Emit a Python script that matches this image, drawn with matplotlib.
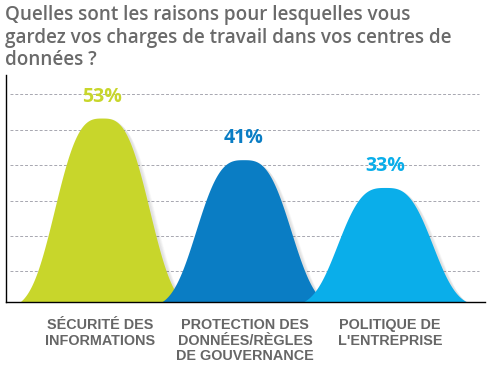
import numpy as np
import matplotlib
matplotlib.use("Agg")
import matplotlib.pyplot as plt

title = "Quelles sont les raisons pour lesquelles vous\ngardez vos charges de travail dans vos centres de\ndonnées ?"
categories = [
    "SÉCURITÉ DES\nINFORMATIONS",
    "PROTECTION DES\nDONNÉES/RÈGLES\nDE GOUVERNANCE",
    "POLITIQUE DE\nL'ENTREPRISE",
]
values = [53, 41, 33]
colors = ["#c8d62b", "#0a7dc4", "#0aaeea"]
grid_levels = [8.9, 19.1, 29.2, 39.4, 49.5, 59.9]

W, H = 495, 366
fig = plt.figure(figsize=(W / 100, H / 100), dpi=100)

# axes placed in pixel coords of the reference
ax_l, ax_r, ax_t, ax_b = 6, 485, 75, 302
ax = fig.add_axes([ax_l / W, 1 - ax_b / H, (ax_r - ax_l) / W, (ax_b - ax_t) / H])

xmin, xmax = -0.678, 2.707
ax.set_xlim(xmin, xmax)
ax.set_ylim(0, 65.4)

# dashed grid
for g in grid_levels:
    ax.plot([xmin + 0.03, xmax - 0.04], [g, g], ls=(0, (3, 2)), color="#a7a7b0",
            lw=0.7, zorder=0)

# bell shaped "bars"
xs = np.linspace(-0.58, 0.58, 400)
shape = np.exp(-(np.abs(xs) / 0.386) ** 3)
shape = np.clip(shape - shape[0], 0, None) / (1 - shape[0])
for i, (v, c) in enumerate(zip(values, colors)):
    # soft shadow
    for k in range(6):
        ax.fill_between(xs + i + 0.012 + 0.006 * k, 0, v * shape - 0.3 * k,
                        color="#000000", alpha=0.02, lw=0, zorder=1)
    ax.fill_between(xs + i, 0, v * shape, color=c, lw=0, zorder=2 + i)
    ax.text(i, v + 6.2, f"{v}%", ha="center", va="center", fontsize=14,
            fontweight="bold", color=c, family="Open Sans")

for s in ["top", "right"]:
    ax.spines[s].set_visible(False)
ax.spines["left"].set_color("black")
ax.spines["bottom"].set_color("black")
ax.spines["left"].set_linewidth(1.0)
ax.spines["bottom"].set_linewidth(1.0)
ax.spines["bottom"].set_zorder(10)
ax.set_xticks([])
ax.set_yticks([])

fig.text(5 / W, 1 - 5 / H, title, ha="left", va="top", fontsize=13.6,
         color="#6a6a6a", family="Open Sans", fontweight="semibold",
         linespacing=1.17)

label_x = [100, 245, 390]
for lx, lab in zip(label_x, categories):
    fig.text(lx / W, 1 - 318 / H, lab, ha="center", va="top", fontsize=10.4,
             fontweight="bold", color="#666666", family="Liberation Sans",
             linespacing=1.15)

fig.savefig("out.png", dpi=100)
